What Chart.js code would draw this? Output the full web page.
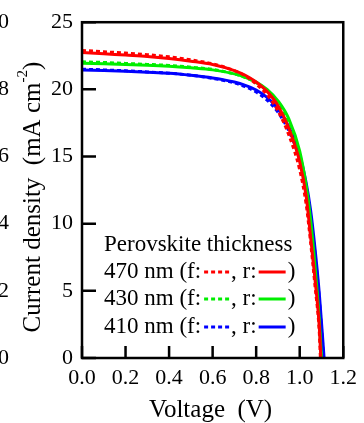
<!DOCTYPE html>
<html>
<head>
<meta charset="utf-8">
<script src="https://cdn.jsdelivr.net/npm/chart.js@4"></script>
<style>
  html, body { margin: 0; padding: 0; background: #fff; }
  #wrap { width: 364px; height: 423px; }
</style>
</head>
<body>
<div id="wrap"><canvas id="jv"></canvas></div>
<script>
// J-V curves, forward (f, dashed) and reverse (r, solid) scans
const voltage = [0, 0.1, 0.2, 0.3, 0.4, 0.5, 0.6, 0.7, 0.75, 0.8, 0.85, 0.9, 0.95, 1.0, 1.03, 1.05, 1.07, 1.09];

const j470r = [22.75, 22.65, 22.55, 22.45, 22.3, 22.1, 21.85, 21.4, 21.05, 20.55, 19.85, 18.8, 17.1, 14.6, 12.0, 9.0, 5.9, 2.3];
const j470f = [22.9, 22.8, 22.7, 22.58, 22.42, 22.2, 21.9, 21.4, 21.0, 20.4, 19.6, 18.4, 16.6, 14.0, 11.4, 8.6, 5.4, 1.9];
const j430r = [21.95, 21.9, 21.85, 21.8, 21.72, 21.6, 21.45, 21.15, 20.9, 20.55, 20.0, 19.15, 17.8, 15.4, 12.8, 10.3, 6.9, 2.8];
const j430f = [22.05, 22.0, 21.93, 21.86, 21.78, 21.65, 21.48, 21.15, 20.88, 20.5, 19.9, 19.0, 17.5, 15.0, 12.3, 9.8, 6.4, 2.4];
const j410r = [21.45, 21.4, 21.35, 21.28, 21.2, 21.05, 20.85, 20.55, 20.3, 19.95, 19.4, 18.55, 17.2, 15.1, 13.0, 11.0, 8.2, 4.8];
const j410f = [21.5, 21.45, 21.38, 21.3, 21.2, 21.05, 20.82, 20.48, 20.2, 19.8, 19.2, 18.3, 16.9, 14.8, 12.7, 10.6, 7.8, 4.4];

// open-circuit voltages (J = 0)
const voc470 = { f: 1.095, r: 1.097 };
const voc430 = { f: 1.098, r: 1.1 };
const voc410 = { f: 1.11, r: 1.112 };

const thickness = ['470 nm', '430 nm', '410 nm'];
const colors = ['#ff0000', '#00ee00', '#0000ff'];

const yTicks = [0, 5, 10, 15, 20, 25];
const xTicks = [0, 0.2, 0.4, 0.6, 0.8, 1.0, 1.2];
// clipped tick labels of the neighbouring panel at the left edge
const sideLabels = ['0', '8', '6', '4', '2', '0'];

const SERIF = "'Liberation Serif', 'Times New Roman', serif";

function toPoints(js, voc) {
    const pts = voltage.map((v, i) => ({ x: v, y: js[i] }));
    pts.push({ x: voc, y: 0 });
    return pts;
}

function curve(js, voc, color, dashed) {
    return {
        data: toPoints(js, voc),
        borderColor: color,
        borderWidth: 3,
        borderDash: dashed ? [4, 3] : [],
        pointRadius: 0,
        fill: false,
        cubicInterpolationMode: 'monotone'
    };
}

// frame, inward ticks, axis titles, legend
const decor = {
    id: 'decor',
    afterDatasetsDraw(chart) {
        const { ctx, chartArea: a, scales } = chart;
        ctx.save();
        ctx.strokeStyle = '#000';
        ctx.lineWidth = 2.5;
        ctx.setLineDash([]);
        ctx.strokeRect(a.left, a.top, a.right - a.left, a.bottom - a.top);

        // inward ticks
        ctx.beginPath();
        xTicks.forEach(v => {
            const x = scales.x.getPixelForValue(v);
            ctx.moveTo(x, a.bottom);
            ctx.lineTo(x, a.bottom - 12);
        });
        yTicks.forEach(v => {
            const y = scales.y.getPixelForValue(v);
            ctx.moveTo(a.left, y);
            ctx.lineTo(a.left + 14, y);
        });
        ctx.stroke();

        ctx.fillStyle = '#000';

        // neighbour panel labels, mostly cut off
        ctx.font = '22px ' + SERIF;
        ctx.textAlign = 'right';
        ctx.textBaseline = 'middle';
        yTicks.slice().reverse().forEach((v, i) => {
            ctx.fillText(sideLabels[i], 9, scales.y.getPixelForValue(v));
        });

        // x title
        ctx.font = '25px ' + SERIF;
        ctx.textAlign = 'center';
        ctx.textBaseline = 'middle';
        ctx.fillText('Voltage  (V)', (a.left + a.right) / 2 - 2, 410);

        // y title with superscript
        ctx.save();
        ctx.translate(33, (a.top + a.bottom) / 2 + 7);
        ctx.rotate(-Math.PI / 2);
        const main = 'Current density  (mA cm';
        ctx.font = '25px ' + SERIF;
        const wMain = ctx.measureText(main).width;
        ctx.font = '15px ' + SERIF;
        const wSup = ctx.measureText('-2').width;
        ctx.font = '25px ' + SERIF;
        const wEnd = ctx.measureText(')').width;
        let x0 = -(wMain + wSup + wEnd) / 2;
        ctx.textAlign = 'left';
        ctx.fillText(main, x0, 0);
        ctx.font = '15px ' + SERIF;
        ctx.fillText('-2', x0 + wMain, -10);
        ctx.font = '25px ' + SERIF;
        ctx.fillText(')', x0 + wMain + wSup, 0);
        ctx.restore();

        // legend
        const lx = 104;
        ctx.font = '23px ' + SERIF;
        ctx.textAlign = 'left';
        ctx.textBaseline = 'middle';
        ctx.fillText('Perovskite thickness', lx, 245);
        const rows = [272, 299, 327];
        rows.forEach((ry, i) => {
            let x = lx;
            const head = thickness[i] + ' (f:';
            ctx.fillText(head, x, ry);
            x += ctx.measureText(head).width + 3;
            ctx.strokeStyle = colors[i];
            ctx.lineWidth = 3;
            ctx.setLineDash([4, 3]);
            ctx.beginPath();
            ctx.moveTo(x, ry);
            ctx.lineTo(x + 26, ry);
            ctx.stroke();
            x += 27;
            ctx.fillText(', r:', x, ry);
            x += ctx.measureText(', r:').width + 2;
            ctx.setLineDash([]);
            ctx.beginPath();
            ctx.moveTo(x, ry);
            ctx.lineTo(x + 27, ry);
            ctx.stroke();
            x += 29;
            ctx.fillText(')', x, ry);
        });
        ctx.restore();
    }
};

new Chart(document.getElementById('jv'), {
    type: 'line',
    data: {
        datasets: [
            curve(j470r, voc470.r, colors[0], false),
            curve(j470f, voc470.f, colors[0], true),
            curve(j430r, voc430.r, colors[1], false),
            curve(j430f, voc430.f, colors[1], true),
            curve(j410r, voc410.r, colors[2], false),
            curve(j410f, voc410.f, colors[2], true)
        ]
    },
    options: {
        responsive: true,
        maintainAspectRatio: false,
        animation: false,
        layout: { padding: { top: 22, right: 16, left: 0, bottom: 0 } },
        plugins: {
            legend: { display: false },
            tooltip: { enabled: false }
        },
        scales: {
            x: {
                type: 'linear',
                min: 0,
                max: 1.2,
                afterFit: s => { s.height = 65; },
                afterBuildTicks: s => { s.ticks = xTicks.map(v => ({ value: v })); },
                grid: { display: false, drawTicks: false },
                border: { display: false },
                ticks: {
                    color: '#000',
                    padding: 7,
                    font: { family: SERIF, size: 22 },
                    callback: v => v.toFixed(1)
                }
            },
            y: {
                type: 'linear',
                min: 0,
                max: 25,
                afterFit: s => { s.width = 82; },
                afterBuildTicks: s => { s.ticks = yTicks.map(v => ({ value: v })); },
                grid: { display: false, drawTicks: false },
                border: { display: false },
                ticks: {
                    color: '#000',
                    padding: 9,
                    font: { family: SERIF, size: 22 }
                }
            }
        }
    },
    plugins: [decor]
});
</script>
</body>
</html>
